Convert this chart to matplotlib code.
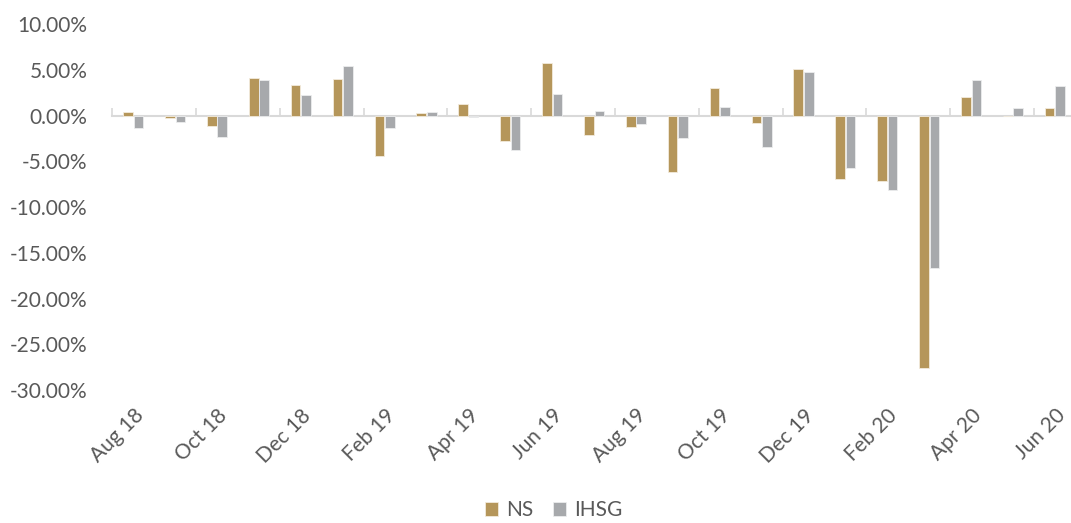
import numpy as np
import matplotlib
matplotlib.use("Agg")
import matplotlib.pyplot as plt
from matplotlib.ticker import FuncFormatter, NullFormatter

months = ["Aug 18", "Sep 18", "Oct 18", "Nov 18", "Dec 18", "Jan 19", "Feb 19",
          "Mar 19", "Apr 19", "May 19", "Jun 19", "Jul 19", "Aug 19", "Sep 19",
          "Oct 19", "Nov 19", "Dec 19", "Jan 20", "Feb 20", "Mar 20", "Apr 20",
          "May 20", "Jun 20"]
ns = [0.37, -0.28, -1.2, 4.15, 3.35, 3.94, -4.42, 0.3, 1.31, -2.77, 5.73,
      -2.15, -1.28, -6.2, 2.96, -0.84, 5.04, -6.94, -7.12, -27.6, 2.04, 0.0, 0.77]
ihsg = [-1.35, -0.7, -2.4, 3.84, 2.25, 5.44, -1.35, 0.4, -0.18, -3.8, 2.37,
        0.47, -0.95, -2.48, 0.95, -3.43, 4.78, -5.7, -8.18, -16.72, 3.9, 0.8, 3.18]

GOLD = "#B5965A"
GRAY = "#A7A9AC"
TXT = "#595959"
LINE = "#D9D9D9"
plt.rcParams["font.family"] = ["Lato", "DejaVu Sans"]

fig = plt.figure(figsize=(10.71, 5.23), dpi=100)
ax = fig.add_axes([0.1049, 0.2543, 0.8996, 0.6998])

x = np.arange(len(months))
w = 0.23
ax.bar(x - w / 2 - 0.01, ns, w, color=GOLD, edgecolor="#F3EBDD", linewidth=0.6, label="NS", zorder=3)
ax.bar(x + w / 2 + 0.01, ihsg, w, color=GRAY, edgecolor="#ECEDEE", linewidth=0.6, label="IHSG", zorder=3)

ax.set_xlim(-0.5, len(months) - 0.5)
ax.set_ylim(-30, 10)
ax.set_yticks(np.arange(-30, 10.1, 5))
ax.yaxis.set_major_formatter(FuncFormatter(lambda v, p: f"{v:.2f}%"))

for s in ax.spines.values():
    s.set_visible(False)
ax.tick_params(axis="y", length=0, labelsize=15, labelcolor=TXT, pad=18)

# category labels every two months at the bottom
ax.set_xticks(x[::2])
ax.set_xticklabels(months[::2], rotation=45, ha="right", rotation_mode="anchor")
ax.tick_params(axis="x", length=0, labelsize=15, labelcolor=TXT, pad=11)

# zero line with boundary tick marks
secax = ax.secondary_xaxis(30 / 40)
for s in secax.spines.values():
    s.set_color(LINE)
    s.set_linewidth(1.5)
secax.set_xticks(np.arange(-0.5, len(months), 2))
secax.xaxis.set_major_formatter(NullFormatter())
secax.tick_params(length=6, width=1.2, color=LINE, labelbottom=False, labeltop=False)

leg = fig.legend(loc="lower center", bbox_to_anchor=(0.517, -0.03), ncol=2, frameon=False,
                 fontsize=15, handlelength=0.65, handleheight=0.65, handletextpad=0.4,
                 columnspacing=0.9)
for t in leg.get_texts():
    t.set_color(TXT)

fig.savefig("out.png", dpi=100)
